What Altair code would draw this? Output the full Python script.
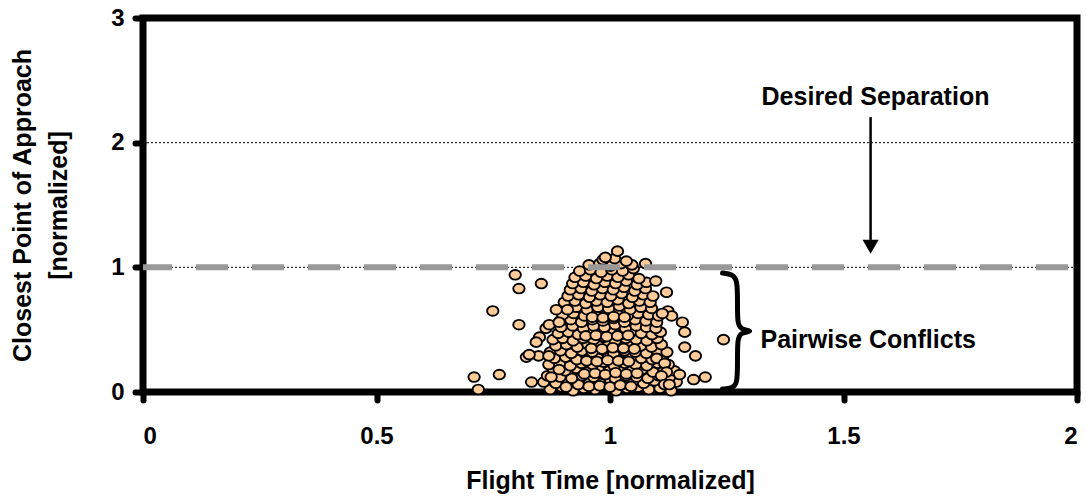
import altair as alt
import pandas as pd

# ---------------- data ----------------
cluster_x = [
    0.872,0.897,0.921,0.944,0.968,0.991,1.013,1.037,1.060,1.083,1.107,1.131,
    0.858,0.884,0.909,0.932,0.956,0.979,1.002,1.025,1.049,1.072,1.095,1.119,1.142,
    0.866,0.893,0.918,0.941,0.965,0.988,1.011,1.034,1.057,1.081,1.104,1.128,
    0.879,0.904,0.928,0.952,0.975,0.999,1.022,1.046,1.069,1.092,1.116,1.138,
    0.869,0.892,0.915,0.939,0.963,0.986,1.009,1.032,1.055,1.079,1.103,1.125,
    0.881,0.905,0.929,0.951,0.974,0.997,1.020,1.044,1.067,1.090,1.113,
    0.872,0.894,0.917,0.940,0.962,0.985,1.008,1.031,1.054,1.078,1.101,1.122,
    0.884,0.907,0.930,0.953,0.975,0.998,1.021,1.043,1.066,1.089,1.110,
    0.878,0.899,0.921,0.943,0.965,0.988,1.011,1.034,1.056,1.079,1.101,
    0.889,0.911,0.932,0.954,0.977,1.000,1.023,1.045,1.067,1.090,1.108,
    0.895,0.920,0.943,0.965,0.988,1.011,1.033,1.056,1.078,1.098,
    0.893,0.916,0.939,0.962,0.985,1.008,1.031,1.054,1.077,1.100,
    0.899,0.922,0.945,0.968,0.991,1.014,1.037,1.060,1.083,1.104,
    0.905,0.928,0.951,0.974,0.997,1.020,1.043,1.066,1.089,
    0.902,0.925,0.948,0.971,0.994,1.017,1.040,1.063,1.086,
    0.910,0.933,0.956,0.979,1.002,1.025,1.048,1.071,1.092,
    0.915,0.938,0.961,0.984,1.007,1.030,1.053,1.076,
    0.920,0.943,0.966,0.989,1.012,1.035,1.058,1.078,
    0.925,0.948,0.971,0.994,1.017,1.040,1.062,
    0.935,0.958,0.981,1.004,1.027,1.050,
    0.955,0.978,1.001,1.024,1.047,
    0.985,1.010,1.035,
]
cluster_y = [
    0.02,0.04,0.01,0.03,0.02,0.05,0.01,0.03,0.04,0.02,0.03,0.01,
    0.08,0.07,0.09,0.06,0.08,0.07,0.09,0.06,0.08,0.07,0.09,0.07,0.08,
    0.13,0.12,0.11,0.13,0.12,0.14,0.11,0.13,0.12,0.11,0.13,0.12,
    0.18,0.17,0.19,0.16,0.18,0.17,0.19,0.17,0.18,0.16,0.18,0.17,
    0.22,0.23,0.21,0.23,0.22,0.24,0.21,0.23,0.22,0.21,0.23,0.22,
    0.27,0.28,0.26,0.28,0.27,0.29,0.26,0.28,0.27,0.26,0.28,
    0.32,0.33,0.31,0.33,0.32,0.34,0.31,0.33,0.32,0.31,0.33,0.32,
    0.37,0.38,0.36,0.38,0.37,0.39,0.36,0.38,0.37,0.36,0.38,
    0.42,0.43,0.41,0.43,0.42,0.44,0.41,0.43,0.42,0.41,0.43,
    0.47,0.48,0.46,0.48,0.47,0.49,0.46,0.48,0.47,0.46,0.48,
    0.52,0.53,0.51,0.53,0.52,0.54,0.51,0.53,0.52,0.51,
    0.57,0.58,0.56,0.58,0.57,0.59,0.56,0.58,0.57,0.56,
    0.62,0.63,0.61,0.63,0.62,0.64,0.61,0.63,0.62,0.61,
    0.67,0.68,0.66,0.68,0.67,0.69,0.66,0.68,0.67,
    0.72,0.73,0.71,0.73,0.72,0.74,0.71,0.73,0.72,
    0.77,0.78,0.76,0.78,0.77,0.79,0.76,0.78,0.77,
    0.82,0.83,0.81,0.83,0.82,0.84,0.81,0.83,
    0.87,0.88,0.86,0.88,0.87,0.89,0.86,0.88,
    0.92,0.93,0.91,0.93,0.92,0.94,0.91,
    0.97,0.98,0.96,0.98,0.97,0.99,
    1.02,1.03,1.01,1.03,1.02,
    1.06,1.07,1.05,
]
inner_x = [0.955,0.978,1.000,1.022,1.045, 0.945,0.968,0.990,1.012,1.035,1.058,
           0.950,0.972,0.995,1.018,1.040, 0.960,0.983,1.006,1.029,1.052,
           0.948,0.970,0.993,1.016,1.039, 0.962,0.985,1.008,1.031]
inner_y = [0.045,0.050,0.040,0.055,0.045, 0.145,0.150,0.140,0.155,0.145,0.150,
           0.250,0.245,0.255,0.250,0.245, 0.350,0.345,0.355,0.350,0.345,
           0.450,0.455,0.445,0.450,0.455, 0.600,0.595,0.605,0.600]
outlier_x = [1.016,0.990,1.076,0.797,0.805,0.853,0.749,0.805,0.709,0.718,0.763,0.832,
             1.098,1.121,1.124,1.155,1.160,1.160,1.183,1.149,1.179,1.204,1.243,
             0.821,0.847,0.885,0.909,0.849,0.842,0.863,0.870,0.891,0.827,0.869,0.874,
             0.891,0.906,1.132,1.112,1.100,1.117,1.121,1.110,1.117,1.127]
outlier_y = [1.13,1.08,1.03,0.94,0.83,0.87,0.65,0.54,0.12,0.02,0.14,0.08,
             0.89,0.80,0.65,0.56,0.48,0.36,0.29,0.14,0.10,0.12,0.42,
             0.28,0.29,0.66,0.66,0.44,0.40,0.51,0.54,0.56,0.30,0.29,0.12,
             0.18,0.04,0.61,0.63,0.27,0.23,0.16,0.13,0.06,0.06]

x_ticks = [0, 0.5, 1, 1.5, 2]
y_ticks = [0, 1, 2, 3]
ref_levels = [1, 2]
desired_separation = 1

brace_x = [1.241, 1.262, 1.273, 1.273, 1.273, 1.279, 1.309, 1.279, 1.273, 1.273, 1.273, 1.262, 1.241]
brace_y = [0.954, 0.944, 0.900, 0.700, 0.560, 0.500, 0.489, 0.478, 0.420, 0.250, 0.070, 0.030, 0.024]

# ---------------- chart ----------------
FONT = "Liberation Sans"
W, H = 934, 374
xs = alt.Scale(domain=[0, 2], nice=False, zero=False)
ys = alt.Scale(domain=[0, 3], nice=False, zero=False)

x_axis = alt.Axis(values=x_ticks, format="~g", title="Flight Time [normalized]",
                  labelPadding=24, titleY=88, titleBaseline="middle")
y_axis = alt.Axis(values=y_ticks, format="~g", title=["Closest Point of Approach", "[normalized]"],
                  labelPadding=11, titleX=-121, titleY=H / 2, titleBaseline="middle",
                  titleLineHeight=36)


def X(f="x"):
    return alt.X(f"{f}:Q", scale=xs, axis=x_axis)


def Y(f="y"):
    return alt.Y(f"{f}:Q", scale=ys, axis=y_axis)


pts = pd.DataFrame({"x": cluster_x + inner_x + outlier_x, "y": cluster_y + inner_y + outlier_y})
ELLIPSE = "M-1,0A1,0.85,0,1,1,1,0A1,0.85,0,1,1,-1,0Z"

points = alt.Chart(pts).mark_point(
    shape=ELLIPSE, size=130, filled=True, fill="#FFCC99", stroke="black",
    strokeWidth=1.9, opacity=1, fillOpacity=1, strokeOpacity=1,
).encode(x=X(), y=Y())

lvl = pd.DataFrame({"y": ref_levels})
dotted = alt.Chart(lvl).mark_rule(color="black", strokeWidth=1, strokeDash=[2, 2]).encode(y=Y())

gray = alt.Chart(pd.DataFrame({"y": [desired_separation]})).mark_rule(
    color="#999999", strokeWidth=6, strokeDash=[32, 24], strokeDashOffset=47).encode(y=Y())

brace = alt.Chart(pd.DataFrame({"x": brace_x, "y": brace_y, "o": list(range(len(brace_x)))})).mark_line(
    color="black", strokeWidth=5, interpolate="basis", strokeCap="round", strokeJoin="round").encode(
    x=X(), y=Y(), order="o:Q")

arrow_df = pd.DataFrame({"x": [1.558], "y": [2.205], "y2": [1.22]})
arrow_line = alt.Chart(arrow_df).mark_rule(color="black", strokeWidth=2.5).encode(
    x=X(), y=Y(), y2="y2:Q")
arrow_head = alt.Chart(pd.DataFrame({"x": [1.558], "y": [1.165]})).mark_point(
    shape="triangle-down", size=260, filled=True, color="black", opacity=1).encode(x=X(), y=Y())

lbl1 = alt.Chart(pd.DataFrame({"x": [1.5685], "y": [2.366], "t": ["Desired Separation"]})).mark_text(
    font=FONT, fontSize=25, fontWeight="bold", color="black", align="center", baseline="middle").encode(
    x=X(), y=Y(), text="t:N")
lbl2 = alt.Chart(pd.DataFrame({"x": [1.3223], "y": [0.417], "t": ["Pairwise Conflicts"]})).mark_text(
    font=FONT, fontSize=25, fontWeight="bold", color="black", align="left", baseline="middle").encode(
    x=X(), y=Y(), text="t:N")

chart = alt.layer(dotted, points, gray, brace, arrow_line, arrow_head, lbl1, lbl2).properties(
    width=W, height=H,
    autosize=alt.AutoSizeParams(type="none"),
    padding={"left": 143, "top": 18, "right": 9, "bottom": 104},
    background="white",
).configure_view(
    stroke="black", strokeWidth=7,
).configure_axis(
    domain=False, grid=False, ticks=True, tickColor="black", tickWidth=6, tickSize=8,
    tickCap="round", labelFont=FONT, labelFontSize=24, labelFontWeight="bold",
    labelColor="black", titleFont=FONT, titleFontSize=25, titleFontWeight="bold",
    titleColor="black",
)

chart.save("out.html", embed_options={"renderer": "svg", "actions": False})
